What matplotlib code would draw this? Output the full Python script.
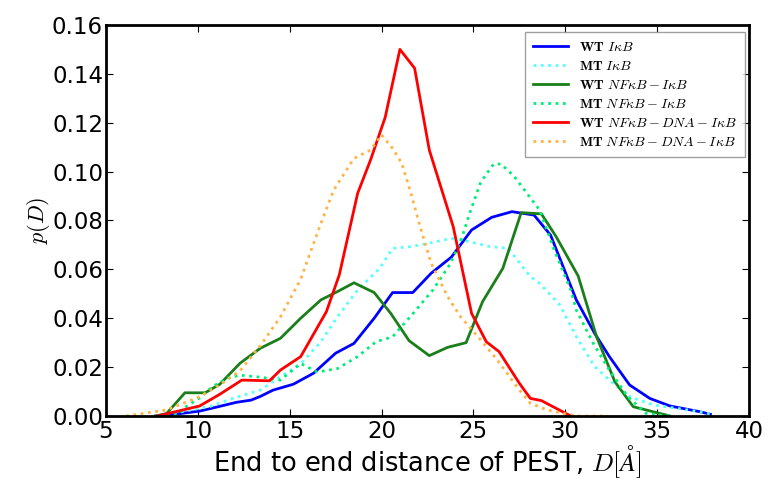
import matplotlib
matplotlib.use("Agg")
import matplotlib.pyplot as plt

# distributions: D in Angstrom, p(D)
wt_ikb_d = [7.7, 8.3, 10.1, 11.0, 12.1, 12.9, 13.4, 14.1, 15.2, 16.3, 17.5, 18.5, 19.6, 20.6, 21.7,
            22.7, 23.8, 24.9, 26.0, 27.1, 28.3, 29.2, 30.6, 31.6, 32.4, 33.5, 34.6, 35.7, 37.3, 37.9]
wt_ikb_p = [0.0, 0.0003, 0.002, 0.0036, 0.0056, 0.0065, 0.008, 0.0106, 0.013, 0.0175, 0.0257, 0.0297,
            0.040, 0.0505, 0.0505, 0.0584, 0.065, 0.0761, 0.0813, 0.0836, 0.0822, 0.074, 0.0475,
            0.0338, 0.0243, 0.0127, 0.0072, 0.0041, 0.0018, 0.0007]

mt_ikb_d = [7.9, 10.7, 11.9, 13.4, 14.5, 15.6, 16.7, 17.6, 18.7, 19.9, 20.6, 21.6, 22.6, 23.8, 24.8,
            25.9, 26.9, 28.1, 28.6, 29.7, 30.6, 31.6, 32.6, 33.5, 34.8, 37.3, 37.9]
mt_ikb_p = [0.0, 0.004, 0.0072, 0.0106, 0.0161, 0.0213, 0.0304, 0.0406, 0.0516, 0.0604, 0.0686,
            0.0693, 0.0707, 0.0727, 0.0713, 0.0693, 0.0686, 0.057, 0.0543, 0.0454, 0.0325, 0.0202,
            0.0134, 0.0079, 0.0045, 0.0018, 0.0008]

wt_nfkb_d = [7.7, 8.3, 9.3, 10.4, 11.2, 12.3, 13.4, 14.5, 15.6, 16.7, 17.6, 18.5, 19.6, 20.5, 21.5,
             22.6, 23.6, 24.6, 25.5, 26.6, 27.6, 28.7, 29.5, 30.7, 31.7, 32.7, 33.7, 35.7]
wt_nfkb_p = [0.0, 0.001, 0.0095, 0.0095, 0.013, 0.0216, 0.0277, 0.0318, 0.040, 0.0475, 0.0509, 0.0545,
             0.0505, 0.042, 0.0308, 0.0247, 0.0281, 0.030, 0.0468, 0.0604, 0.0832, 0.0827, 0.0734,
             0.0573, 0.0325, 0.014, 0.0038, 0.0]

mt_nfkb_d = [7.9, 9.0, 9.2, 10.1, 10.8, 11.6, 12.3, 13.4, 14.5, 15.6, 16.5, 17.6, 18.7, 19.7, 20.6,
             21.7, 22.8, 23.7, 24.3, 24.8, 25.4, 26.1, 26.5, 27.2, 28.6, 29.4, 30.3, 30.6, 31.5, 32.4,
             33.4, 34.4, 35.7]
mt_nfkb_p = [0.0, 0.0008, 0.003, 0.0074, 0.012, 0.0155, 0.0167, 0.0159, 0.0147, 0.0215, 0.018, 0.0194,
             0.0243, 0.0304, 0.0324, 0.0418, 0.0516, 0.0618, 0.0713, 0.083, 0.0957, 0.1031, 0.1031,
             0.0982, 0.0843, 0.0679, 0.0515, 0.0434, 0.030, 0.0188, 0.0079, 0.0011, 0.0]

wt_dna_d = [7.8, 9.2, 10.1, 11.2, 12.4, 13.9, 14.5, 15.6, 17.0, 17.7, 18.7, 19.4, 20.2, 21.0, 21.8,
            22.6, 23.9, 24.9, 25.7, 26.4, 27.5, 28.1, 28.7, 30.3]
wt_dna_p = [0.0, 0.0025, 0.0041, 0.0089, 0.0147, 0.0144, 0.0188, 0.0243, 0.0427, 0.0577, 0.0911,
            0.1047, 0.1222, 0.150, 0.1423, 0.1088, 0.0775, 0.042, 0.0304, 0.0263, 0.0134, 0.0072,
            0.0063, 0.0]

mt_dna_d = [6.1, 8.3, 10.1, 11.2, 12.3, 13.4, 14.5, 15.6, 16.7, 17.4, 18.5, 19.4, 20.0, 20.6, 21.1,
            21.6, 22.1, 22.7, 23.6, 24.3, 25.4, 26.3, 27.5, 28.1, 29.0, 30.6, 32.3]
mt_dna_p = [0.0, 0.0025, 0.0079, 0.0127, 0.0185, 0.0287, 0.0406, 0.056, 0.0788, 0.0925, 0.1054, 0.1088,
            0.115, 0.1095, 0.1034, 0.0911, 0.0775, 0.0625, 0.0488, 0.0406, 0.0311, 0.0229, 0.0106,
            0.0052, 0.0025, 0.0, 0.0]

plt.rcParams['mathtext.fontset'] = 'cm'
plt.rcParams['xtick.direction'] = 'in'
plt.rcParams['ytick.direction'] = 'in'

fig = plt.figure(figsize=(7.73, 4.79), dpi=100)
ax = fig.add_axes([0.137, 0.1315, 0.832, 0.8165])

ax.plot(wt_ikb_d, wt_ikb_p, color='b', lw=2, label=r'$\mathbf{WT}\ I\kappa B$')
ax.plot(mt_ikb_d, mt_ikb_p, color='#55ffff', lw=2, ls=':', label=r'$\mathbf{MT}\ I\kappa B$')
ax.plot(wt_nfkb_d, wt_nfkb_p, color='#1a7f1a', lw=2, label=r'$\mathbf{WT}\ NF\kappa B-I\kappa B$')
ax.plot(mt_nfkb_d, mt_nfkb_p, color='#00ee77', lw=2, ls=':', label=r'$\mathbf{MT}\ NF\kappa B-I\kappa B$')
ax.plot(wt_dna_d, wt_dna_p, color='r', lw=2, label=r'$\mathbf{WT}\ NF\kappa B-DNA-I\kappa B$')
ax.plot(mt_dna_d, mt_dna_p, color='#ffb347', lw=2, ls=':', label=r'$\mathbf{MT}\ NF\kappa B-DNA-I\kappa B$')

ax.set_xlim(5, 40)
ax.set_ylim(0, 0.16)
ax.set_xticks(range(5, 41, 5))
ax.set_yticks([0.0, 0.02, 0.04, 0.06, 0.08, 0.10, 0.12, 0.14, 0.16])
ax.set_yticklabels(['0.00', '0.02', '0.04', '0.06', '0.08', '0.10', '0.12', '0.14', '0.16'])
ax.tick_params(labelsize=16.5, pad=2, top=True, right=True, length=5)
ax.tick_params(axis='x', pad=3)
for s in ax.spines.values():
    s.set_linewidth(2)

ax.set_xlabel(r'End to end distance of PEST, $D[\AA]$', fontsize=18.5, labelpad=0)
ax.set_ylabel(r'$p(D)$', fontsize=16, labelpad=0)

leg = ax.legend(loc='upper right', fontsize=10, handlelength=2.5, borderpad=0.6,
                labelspacing=0.35, fancybox=False, borderaxespad=0,
                bbox_to_anchor=(0.994, 0.982))
leg.get_frame().set_edgecolor('#888888')

plt.savefig("out.png", dpi=100)
